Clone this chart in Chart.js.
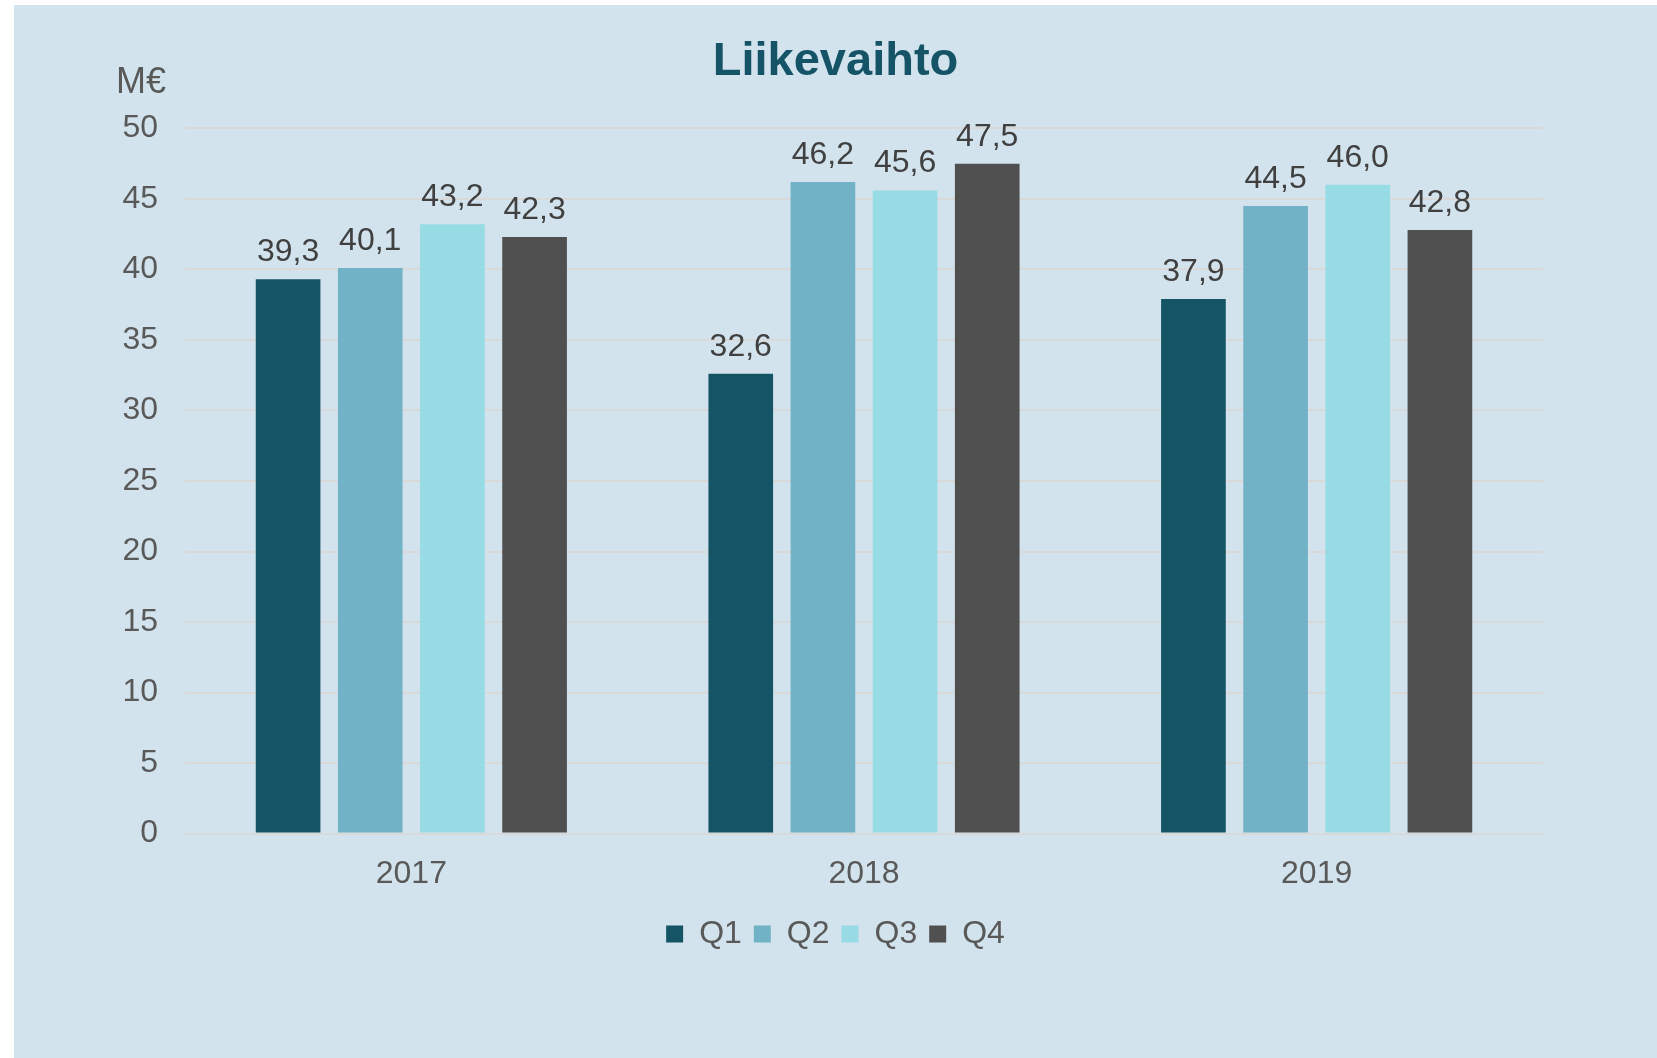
<!DOCTYPE html>
<html>
<head>
<meta charset="utf-8">
<script src="https://cdn.jsdelivr.net/npm/chart.js@4/dist/chart.umd.min.js"></script>
<style>
  body { margin: 0; background: #ffffff; }
  #wrap { position: absolute; left: 14px; top: 5px; width: 1643px; height: 1053px; background: #d2e3ed; }
</style>
</head>
<body>
<div id="wrap"><canvas id="myChart"></canvas></div>
<script>
// data
const years = ['2017', '2018', '2019'];
const quarters = ['Q1', 'Q2', 'Q3', 'Q4'];
const q1 = [39.3, 32.6, 37.9];
const q2 = [40.1, 46.2, 44.5];
const q3 = [43.2, 45.6, 46.0];
const q4 = [42.3, 47.5, 42.8];
const yTicks = [0, 5, 10, 15, 20, 25, 30, 35, 40, 45, 50];
const colors = ['#155465', '#72b2c6', '#97dbe5', '#505050'];

const font = '"Liberation Sans", Arial, sans-serif';
Chart.defaults.font.family = font;

// value labels + unit text
const labelPlugin = {
  id: 'labels',
  afterDatasetsDraw(chart) {
    const ctx = chart.ctx;
    ctx.save();
    ctx.font = '32px ' + font;
    ctx.fillStyle = '#404040';
    ctx.textAlign = 'center';
    ctx.textBaseline = 'alphabetic';
    chart.data.datasets.forEach((ds, i) => {
      chart.getDatasetMeta(i).data.forEach((bar, j) => {
        ctx.fillText(ds.data[j].toFixed(1).replace('.', ','), bar.x, bar.y - 18);
      });
    });
    // M€ unit
    const y = chart.scales.y;
    ctx.font = '36px ' + font;
    ctx.fillStyle = '#595959';
    ctx.textAlign = 'center';
    ctx.textBaseline = 'middle';
    ctx.fillText('M€', 127, y.top - 45);
    ctx.restore();
  }
};

const data = {
  labels: years,
  datasets: [q1, q2, q3, q4].map((vals, i) => ({
    label: quarters[i],
    data: vals,
    backgroundColor: colors[i],
    categoryPercentage: 0.726,
    barPercentage: 0.787
  }))
};

const config = {
  type: 'bar',
  data,
  plugins: [labelPlugin],
  options: {
    responsive: true,
    maintainAspectRatio: false,
    animation: false,
    layout: { padding: { left: 0, right: 0, top: 0, bottom: 98 } },
    scales: {
      x: {
        grid: { display: false },
        border: { display: true, color: '#d9d9d9', width: 2 },
        ticks: { color: '#595959', font: { size: 32 }, padding: 13 }
      },
      y: {
        min: 0,
        max: 50,
        afterBuildTicks: axis => { axis.ticks = yTicks.map(v => ({ value: v })); },
        afterFit: axis => { axis.width = 171; },
        grid: { color: '#d9d9d9', lineWidth: 2, drawTicks: false },
        border: { display: false },
        ticks: { color: '#595959', font: { size: 32 }, padding: 27 }
      },
      // empty right margin so title and legend stay centred on the panel
      yRight: {
        position: 'right',
        afterFit: axis => { axis.width = 114; },
        grid: { display: false },
        border: { display: false },
        ticks: { display: false }
      }
    },
    plugins: {
      title: {
        display: true,
        text: 'Liikevaihto',
        color: '#155366',
        font: { size: 47, weight: 'bold' },
        padding: { top: 29, bottom: 38 }
      },
      legend: {
        position: 'bottom',
        labels: {
          color: '#595959',
          font: { size: 32 },
          boxWidth: 17,
          boxHeight: 17,
          padding: 12
        }
      },
      tooltip: { enabled: false }
    }
  }
};

const myChart = new Chart(document.getElementById('myChart'), config);
</script>
</body>
</html>
